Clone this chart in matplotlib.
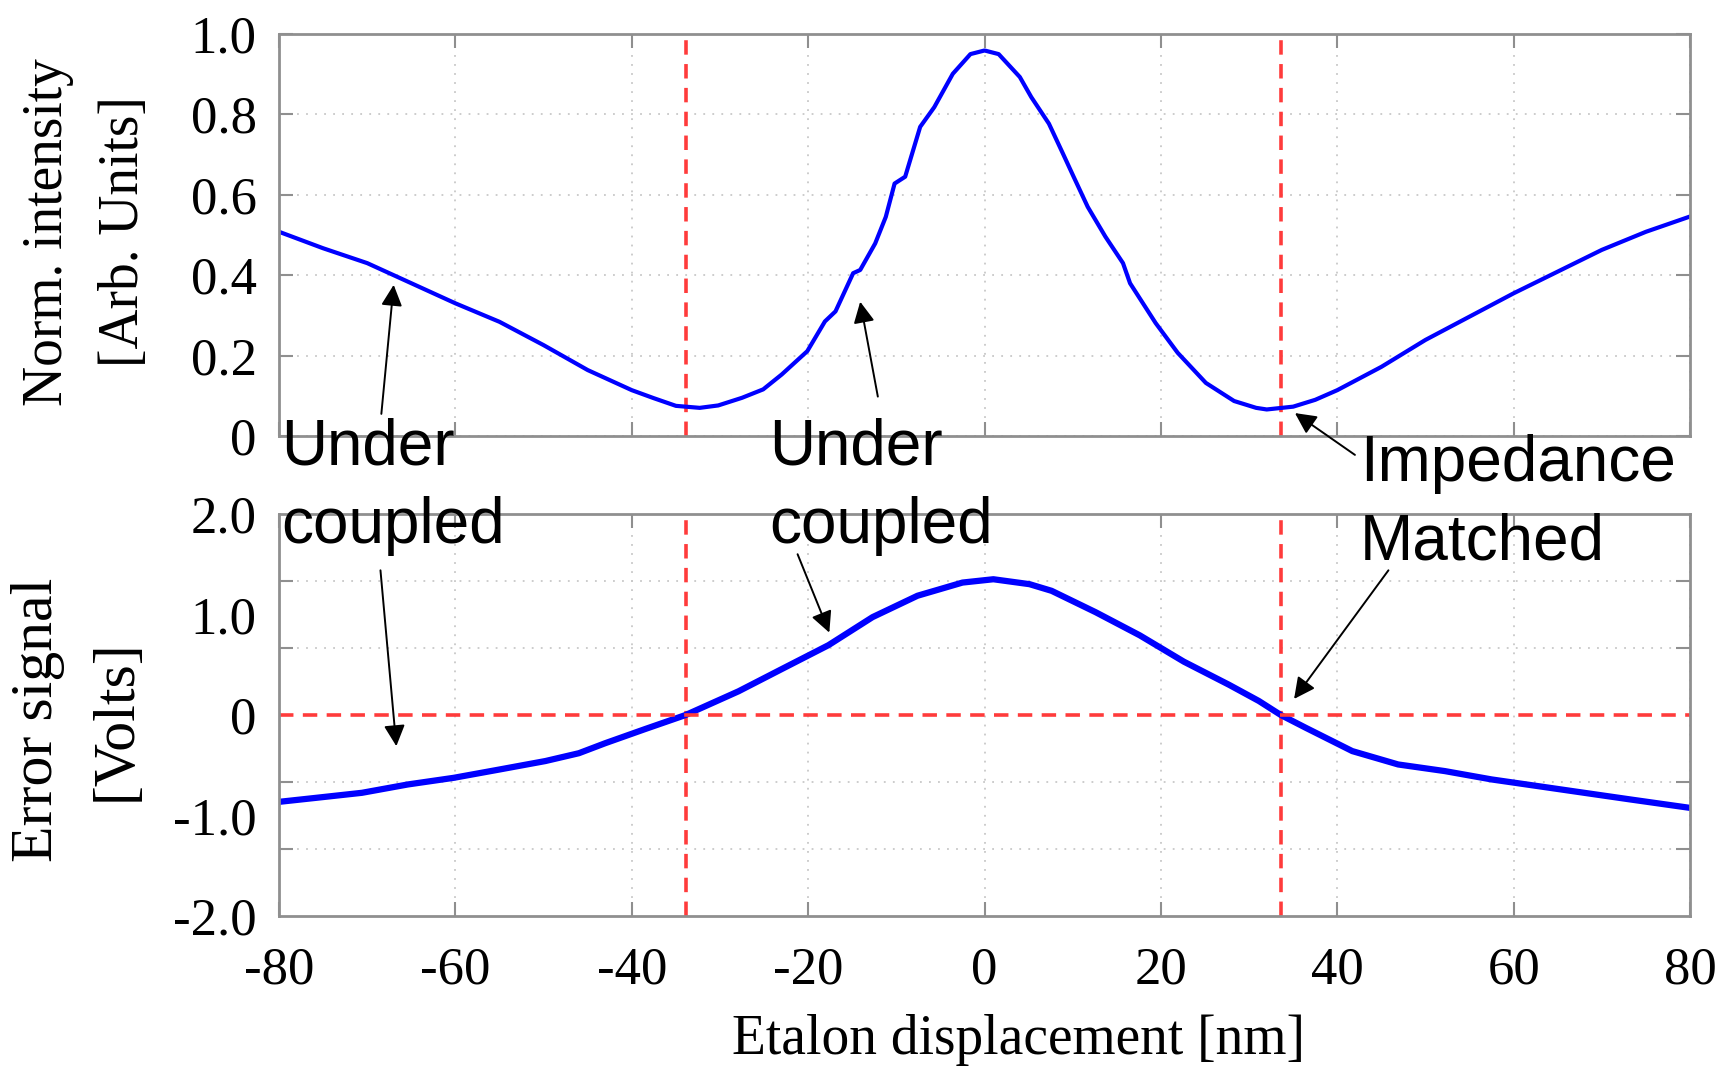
import numpy as np
import matplotlib.pyplot as plt

# transmitted intensity (top panel)
top_x = [-80, -75, -70, -65, -60, -55, -50, -45, -42.5, -40, -37.5, -35, -32.3, -30.2, -27.5,
         -25.1, -23.0, -20.1, -18.1, -16.9, -14.9, -14.1, -12.4, -11.2, -10.2, -9.0, -7.3,
         -5.7, -3.6, -1.6, 0, 1.6, 4.0, 5.3, 7.3, 8.9, 10.1, 11.7, 13.7, 15.7, 16.5, 19.4,
         21.9, 25.1, 28.3, 30.8, 32, 35, 37.5, 40, 45, 50, 55, 60, 65, 70, 75, 80]
top_y = [0.508, 0.467, 0.43, 0.38, 0.33, 0.284, 0.226, 0.164, 0.139, 0.114, 0.094, 0.075, 0.070,
         0.076, 0.095, 0.116, 0.153, 0.211, 0.285, 0.310, 0.405, 0.413, 0.479, 0.545, 0.628,
         0.645, 0.769, 0.818, 0.901, 0.950, 0.959, 0.950, 0.893, 0.843, 0.777, 0.702, 0.645,
         0.570, 0.496, 0.430, 0.380, 0.281, 0.207, 0.132, 0.087, 0.070, 0.066, 0.073, 0.09,
         0.114, 0.172, 0.239, 0.297, 0.355, 0.409, 0.463, 0.508, 0.546]

# error signal (bottom panel)
err_x = [-80, -75.8, -70.6, -65.4, -60.2, -55, -49.8, -46, -43, -38.5, -33.9, -27.9, -22.8,
         -17.7, -12.7, -7.6, -2.5, 1.0, 5.1, 7.6, 12.6, 17.6, 22.6, 27.7, 31.1, 33.6, 36.4,
         41.7, 46.9, 52.2, 57.5, 62.8, 68, 73.3, 80]
err_y = [-0.864, -0.824, -0.774, -0.691, -0.625, -0.542, -0.458, -0.38, -0.28, -0.14, 0.0,
         0.236, 0.466, 0.695, 0.974, 1.187, 1.318, 1.351, 1.302, 1.236, 1.023, 0.793, 0.531,
         0.302, 0.14, 0.0, -0.126, -0.359, -0.492, -0.558, -0.641, -0.708, -0.774, -0.841, -0.924]

# marker lines
res_left = -33.8
res_right = 33.6

x_ticks = [-80, -60, -40, -20, 0, 20, 40, 60, 80]
top_ticks = [0, 0.2, 0.4, 0.6, 0.8, 1.0]
top_labels = ['0', '0.2', '0.4', '0.6', '0.8', '1.0']
err_ticks = [-2, -1, 0, 1, 2]
err_labels = ['-2.0', '-1.0', '0', '1.0', '2.0']

serif = 'Liberation Serif'
sans = 'Liberation Sans'
grey = '#8f8f8f'
red = '#ff3b3b'
blue = '#0000ff'

fig = plt.figure(figsize=(17.3, 10.66), dpi=100)
ax1 = fig.add_axes([0.1613, 0.591, 0.8156, 0.3771])
ax2 = fig.add_axes([0.1613, 0.1407, 0.8156, 0.3771])

for ax in (ax1, ax2):
    ax.set_xlim(-80, 80)
    ax.set_xticks(x_ticks)
    for s in ax.spines.values():
        s.set_color(grey)
        s.set_linewidth(2)
    ax.tick_params(which='both', direction='in', top=True, right=True, color=grey,
                   width=1.5, length=10, labelsize=38, pad=16)
    ax.tick_params(axis='x', pad=22)
    ax.grid(True, axis='x', color='#c8c8c8', linestyle=(0, (1, 4)), linewidth=1.3)
    for lab in ax.get_xticklabels() + ax.get_yticklabels():
        lab.set_fontfamily(serif)
    ax.axvline(res_left, color=red, lw=2.6, dashes=(4, 2.6))
    ax.axvline(res_right, color=red, lw=2.6, dashes=(4, 2.6))

# top panel
ax1.plot(top_x, top_y, color=blue, lw=3.0)
ax1.set_ylim(0, 1.0)
ax1.set_yticks(top_ticks)
ax1.set_yticklabels(top_labels, fontfamily=serif)
ax1.tick_params(axis='x', labelbottom=False)
ax1.grid(True, axis='y', color='#c8c8c8', linestyle=(0, (1, 4)), linewidth=1.3)

# bottom panel: labels every volt, grid in sixths
ax2.plot(err_x, err_y, color=blue, lw=4.5)
ax2.axhline(0, color=red, lw=2.6, dashes=(4, 2.6))
ax2.set_ylim(-2, 2)
ax2.set_yticks(err_ticks)
ax2.set_yticklabels(err_labels, fontfamily=serif)
ax2.set_yticks(np.linspace(-2, 2, 7), minor=True)
ax2.tick_params(axis='y', which='major', length=0)
ax2.grid(True, axis='y', which='minor', color='#c8c8c8', linestyle=(0, (1, 4)), linewidth=1.3)
ax2.set_xticklabels([str(t) for t in x_ticks], fontfamily=serif)

fig.text(0.050, 0.7824, 'Norm. intensity\n[Arb. Units]', rotation=90, ha='center', va='center',
         multialignment='center', fontsize=40, family=serif, linespacing=1.6)
fig.text(0.0445, 0.3246, 'Error signal\n[Volts]', rotation=90, ha='center', va='center',
         multialignment='center', fontsize=43, family=serif, linespacing=1.6)
fig.text(0.589, 0.011, 'Etalon displacement [nm]', ha='center', va='baseline',
         fontsize=40, family=serif)

# annotation labels (y = baseline of the second line)
fig.text(0.1624, 0.4906, 'Under\ncoupled', ha='left', va='baseline', fontsize=46,
         family=sans, linespacing=1.4)
fig.text(0.4445, 0.4906, 'Under\ncoupled', ha='left', va='baseline', fontsize=46,
         family=sans, linespacing=1.4)
fig.text(0.786, 0.4747, 'Impedance\nMatched', ha='left', va='baseline', fontsize=46,
         family=sans, linespacing=1.4)

arrow = dict(arrowstyle='-|>', color='k', lw=1.4, mutation_scale=32, shrinkA=0, shrinkB=0)
ax1.annotate('', xy=(-67.0, 0.376), xytext=(-68.4, 0.055), arrowprops=arrow, annotation_clip=False)
ax1.annotate('', xy=(-14.1, 0.334), xytext=(-12.1, 0.098), arrowprops=arrow, annotation_clip=False)
ax1.annotate('', xy=(35.2, 0.057), xytext=(42.0, -0.047), arrowprops=arrow, annotation_clip=False)
ax2.annotate('', xy=(-66.7, -0.31), xytext=(-68.5, 1.44), arrowprops=arrow, annotation_clip=False)
ax2.annotate('', xy=(-17.6, 0.82), xytext=(-21.2, 1.6), arrowprops=arrow, annotation_clip=False)
ax2.annotate('', xy=(35.1, 0.16), xytext=(45.8, 1.44), arrowprops=arrow, annotation_clip=False)

fig.savefig('out.png', dpi=100)
